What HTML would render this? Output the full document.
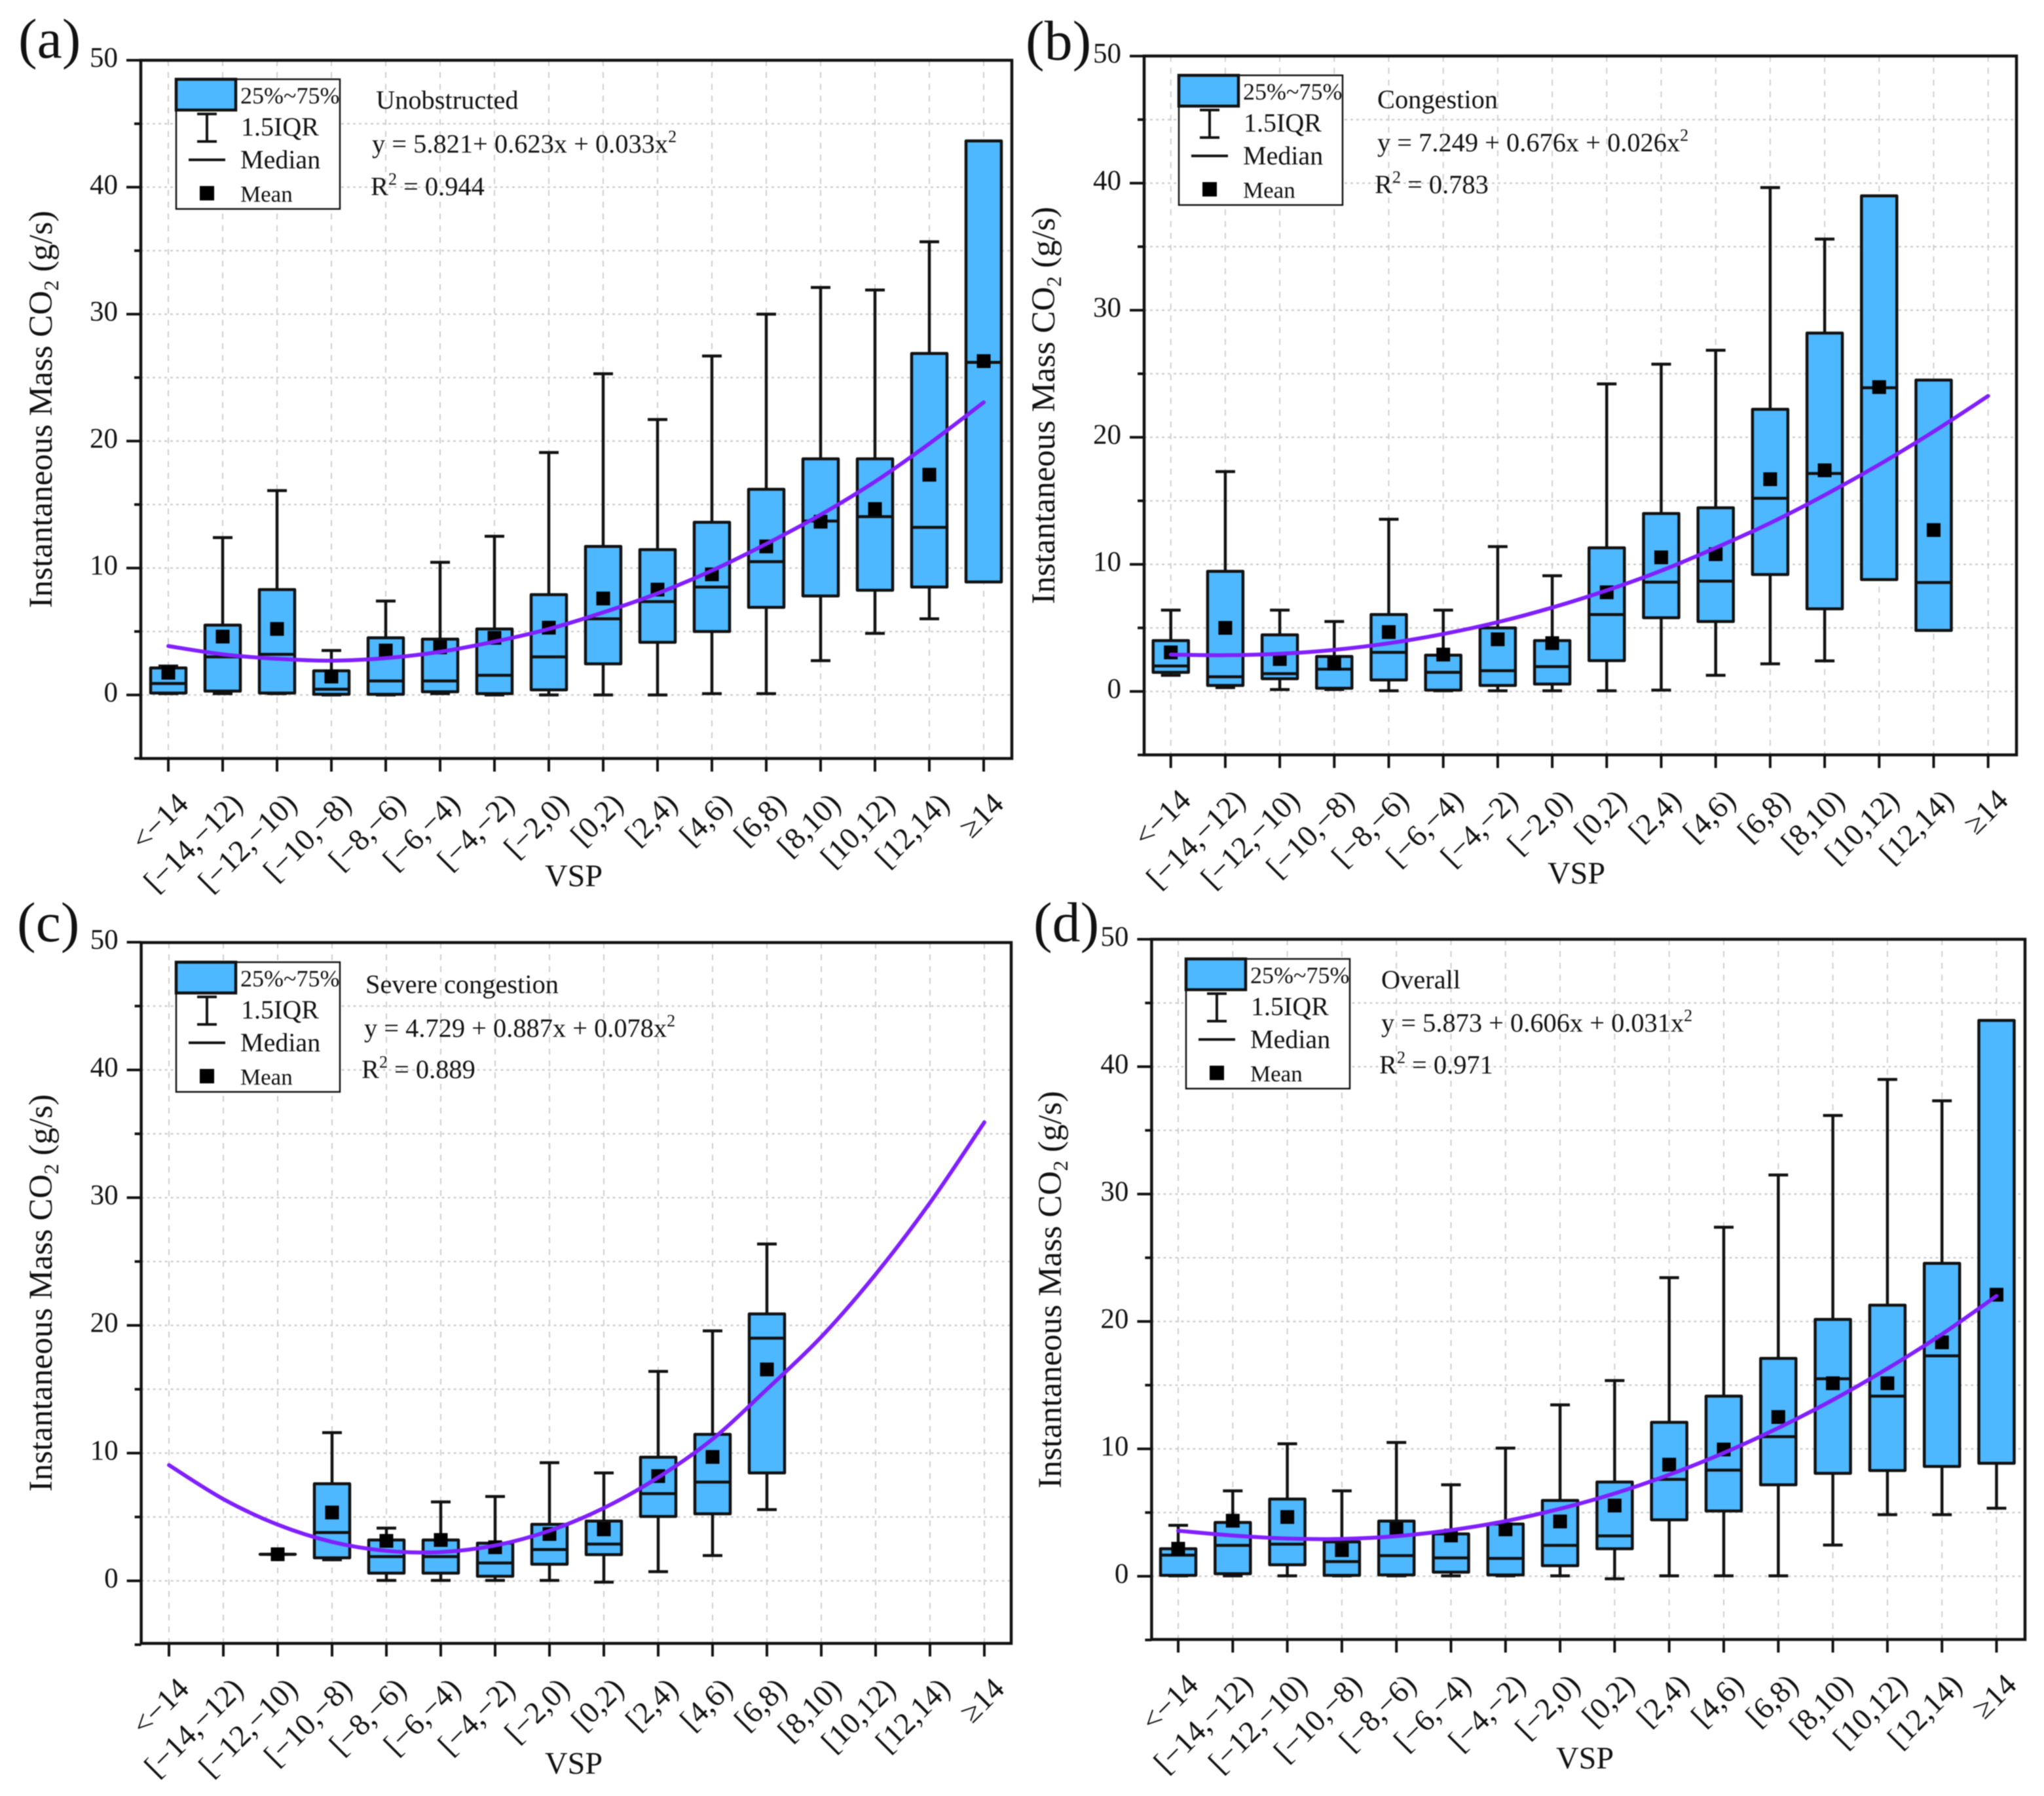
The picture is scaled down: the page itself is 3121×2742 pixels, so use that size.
<!DOCTYPE html>
<html lang="en">
<head>
<meta charset="utf-8">
<title>Instantaneous Mass CO2 by VSP bin</title>
<style>
html,body{margin:0;padding:0;background:#fff;}
svg{display:block;filter:blur(0.7px);}
text{font-family:"Liberation Serif",serif;fill:#111;}
.leg{font-size:40px;}
.note{font-size:40.4px;}
.plabel{font-size:86px;}
.ytitle{font-size:51px;}
.xtitle{font-size:48px;}
</style>
</head>
<body>
<svg id="chart" xmlns="http://www.w3.org/2000/svg" width="3121" height="2742" viewBox="0 0 3121 2742">
<rect x="0" y="0" width="3121" height="2742" fill="#ffffff"/>
<g id="panel-a"></g>
<g id="panel-b"></g>
<g id="panel-c"></g>
<g id="panel-d"></g>

<!-- Panel a static text -->
<text class="plabel" x="28" y="88">(a)</text>
<text class="ytitle" transform="translate(79 625) rotate(-90)" text-anchor="middle">Instantaneous Mass CO<tspan font-size="32" dy="10">2</tspan><tspan dy="-10"> (g/s)</tspan></text>
<text class="xtitle" x="876" y="1353" text-anchor="middle">VSP</text>
<g transform="translate(269 121)">
  <rect x="0" y="0" width="250" height="198" fill="#fff" stroke="#111" stroke-width="2.5"/>
  <rect x="0" y="0" width="91" height="47" fill="#4DB8FF" stroke="#111" stroke-width="4.5"/>
  <text x="98" y="37" style="font-size:36px">25%~75%</text>
  <path d="M32 53H62M47 53V95M32 95H62" fill="none" stroke="#111" stroke-width="4"/>
  <text class="leg" x="99" y="86">1.5IQR</text>
  <path d="M19 123H75" fill="none" stroke="#111" stroke-width="4"/>
  <text class="leg" x="98" y="136">Median</text>
  <rect x="36" y="163" width="22" height="22" fill="#000"/>
  <text x="98" y="187" style="font-size:35px">Mean</text>
</g>
<text class="note" x="574" y="166">Unobstructed</text>
<text class="note" x="568" y="233">y = 5.821+ 0.623x + 0.033x<tspan font-size="26" dy="-16">2</tspan></text>
<text class="note" x="566" y="298">R<tspan font-size="26" dy="-16">2</tspan><tspan dy="16"> = 0.944</tspan></text>

<!-- Panel b static text -->
<text class="plabel" x="1566" y="91">(b)</text>
<text class="ytitle" transform="translate(1610 619) rotate(-90)" text-anchor="middle">Instantaneous Mass CO<tspan font-size="32" dy="10">2</tspan><tspan dy="-10"> (g/s)</tspan></text>
<text class="xtitle" x="2407" y="1349" text-anchor="middle">VSP</text>
<g transform="translate(1800 115)">
  <rect x="0" y="0" width="250" height="198" fill="#fff" stroke="#111" stroke-width="2.5"/>
  <rect x="0" y="0" width="91" height="47" fill="#4DB8FF" stroke="#111" stroke-width="4.5"/>
  <text x="98" y="37" style="font-size:36px">25%~75%</text>
  <path d="M32 53H62M47 53V95M32 95H62" fill="none" stroke="#111" stroke-width="4"/>
  <text class="leg" x="99" y="86">1.5IQR</text>
  <path d="M19 123H75" fill="none" stroke="#111" stroke-width="4"/>
  <text class="leg" x="98" y="136">Median</text>
  <rect x="36" y="163" width="22" height="22" fill="#000"/>
  <text x="98" y="187" style="font-size:35px">Mean</text>
</g>
<text class="note" x="2103" y="165">Congestion</text>
<text class="note" x="2103" y="231">y = 7.249 + 0.676x + 0.026x<tspan font-size="26" dy="-16">2</tspan></text>
<text class="note" x="2099" y="295">R<tspan font-size="26" dy="-16">2</tspan><tspan dy="16"> = 0.783</tspan></text>

<!-- Panel c static text -->
<text class="plabel" x="26" y="1437">(c)</text>
<text class="ytitle" transform="translate(79 1974) rotate(-90)" text-anchor="middle">Instantaneous Mass CO<tspan font-size="32" dy="10">2</tspan><tspan dy="-10"> (g/s)</tspan></text>
<text class="xtitle" x="876" y="2708" text-anchor="middle">VSP</text>
<g transform="translate(269 1469)">
  <rect x="0" y="0" width="250" height="198" fill="#fff" stroke="#111" stroke-width="2.5"/>
  <rect x="0" y="0" width="91" height="47" fill="#4DB8FF" stroke="#111" stroke-width="4.5"/>
  <text x="98" y="37" style="font-size:36px">25%~75%</text>
  <path d="M32 53H62M47 53V95M32 95H62" fill="none" stroke="#111" stroke-width="4"/>
  <text class="leg" x="99" y="86">1.5IQR</text>
  <path d="M19 123H75" fill="none" stroke="#111" stroke-width="4"/>
  <text class="leg" x="98" y="136">Median</text>
  <rect x="36" y="163" width="22" height="22" fill="#000"/>
  <text x="98" y="187" style="font-size:35px">Mean</text>
</g>
<text class="note" x="558" y="1516">Severe congestion</text>
<text class="note" x="556" y="1583">y = 4.729 + 0.887x + 0.078x<tspan font-size="26" dy="-16">2</tspan></text>
<text class="note" x="552" y="1646">R<tspan font-size="26" dy="-16">2</tspan><tspan dy="16"> = 0.889</tspan></text>

<!-- Panel d static text -->
<text class="plabel" x="1578" y="1437">(d)</text>
<text class="ytitle" transform="translate(1620 1969) rotate(-90)" text-anchor="middle">Instantaneous Mass CO<tspan font-size="32" dy="10">2</tspan><tspan dy="-10"> (g/s)</tspan></text>
<text class="xtitle" x="2420" y="2700" text-anchor="middle">VSP</text>
<g transform="translate(1811 1464)">
  <rect x="0" y="0" width="250" height="198" fill="#fff" stroke="#111" stroke-width="2.5"/>
  <rect x="0" y="0" width="91" height="47" fill="#4DB8FF" stroke="#111" stroke-width="4.5"/>
  <text x="98" y="37" style="font-size:36px">25%~75%</text>
  <path d="M32 53H62M47 53V95M32 95H62" fill="none" stroke="#111" stroke-width="4"/>
  <text class="leg" x="99" y="86">1.5IQR</text>
  <path d="M19 123H75" fill="none" stroke="#111" stroke-width="4"/>
  <text class="leg" x="98" y="136">Median</text>
  <rect x="36" y="163" width="22" height="22" fill="#000"/>
  <text x="98" y="187" style="font-size:35px">Mean</text>
</g>
<text class="note" x="2109" y="1509">Overall</text>
<text class="note" x="2109" y="1575">y = 5.873 + 0.606x + 0.031x<tspan font-size="26" dy="-16">2</tspan></text>
<text class="note" x="2106" y="1639">R<tspan font-size="26" dy="-16">2</tspan><tspan dy="16"> = 0.971</tspan></text>
</svg>

<script>
const categories = ["<−14","[−14,−12)","[−12,−10)","[−10,−8)","[−8,−6)","[−6,−4)","[−4,−2)","[−2,0)","[0,2)","[2,4)","[4,6)","[6,8)","[8,10)","[10,12)","[12,14)","≥14"];
const yTickValues = [-5,0,5,10,15,20,25,30,35,40,45,50];
const yTickLabels = ["","0","","10","","20","","30","","40","","50"];

const loA   = [0.1,0.1,0.1,0,0,0.1,0,0,0,0,0.1,0.1,2.7,4.85,6,null];
const q1A   = [0.15,0.3,0.15,0.05,0.05,0.25,0.1,0.4,2.45,4.15,5,6.9,7.8,8.25,8.5,8.9];
const medA  = [0.9,3,3.2,0.45,1.1,1.1,1.55,3,6,7.35,8.5,10.5,13.7,14.05,13.2,26.2];
const q3A   = [2.13,5.5,8.3,1.9,4.5,4.4,5.2,7.9,11.7,11.45,13.6,16.2,18.6,18.6,26.9,43.65];
const hiA   = [2.28,12.4,16.1,3.5,7.4,10.45,12.5,19.1,25.3,21.7,26.7,30,32.1,31.9,35.7,null];
const meanA = [1.75,4.6,5.2,1.45,3.5,3.75,4.5,5.3,7.6,8.3,9.5,11.7,13.65,14.65,17.35,26.3];
const fitA  = [3.85,3.2,2.85,2.7,2.9,3.4,4.2,5.2,6.5,8,9.8,11.9,14.2,16.8,19.8,23.05];

const loB   = [1.27,0.3,0.15,0.15,0.05,0.05,0.05,0.05,0.05,0.1,1.27,2.17,2.4,null,null,null];
const q1B   = [1.5,0.47,1,0.25,0.9,0.1,0.47,0.58,2.42,5.8,5.5,9.2,6.5,8.8,4.8,null];
const medB  = [2,1.15,1.4,1.75,3.07,1.5,1.63,1.95,6.05,8.6,8.68,15.2,17.15,23.9,8.57,null];
const q3B   = [4,9.45,4.45,2.75,6.05,2.85,5,4,11.3,14,14.45,22.2,28.2,39,24.5,null];
const hiB   = [6.4,17.3,6.4,5.5,13.55,6.4,11.4,9.1,24.2,25.75,26.85,39.65,35.6,null,null,null];
const meanB = [3.07,5,2.55,2.2,4.67,2.9,4.1,3.8,7.8,10.55,10.8,16.7,17.4,23.95,12.7,null];
const fitB  = [2.9,2.85,2.96,3.27,3.79,4.52,5.45,6.6,7.95,9.5,11.3,13.25,15.45,17.85,20.45,23.25];

const loC   = [null,null,2.08,1.65,0.03,0.03,0.03,0.03,-0.1,0.72,1.98,5.58,null,null,null,null];
const q1C   = [null,null,2.08,1.8,0.6,0.6,0.36,1.3,2.05,5.04,5.25,8.45,null,null,null,null];
const medC  = [null,null,2.08,3.78,1.9,1.9,1.4,2.45,2.88,6.83,7.73,19,null,null,null,null];
const q3C   = [null,null,2.08,7.6,3.2,3.2,2.95,4.42,4.68,9.68,11.47,20.9,null,null,null,null];
const hiC   = [null,null,2.08,11.6,4.13,6.18,6.6,9.25,8.45,16.4,19.57,26.37,null,null,null,null];
const meanC = [null,null,2.08,5.35,3.13,3.2,2.63,3.67,4.03,8.2,9.7,16.55,null,null,null,null];
const fitC  = [9.06,6.4,4.4,3.05,2.35,2.25,2.77,3.92,5.7,8.1,11.1,15,19.1,24,29.6,35.9];

const loD   = [0.03,0.03,0.03,0.03,0.03,0.03,0.03,0.03,-0.2,0.03,0.03,0.03,2.45,4.83,4.83,5.34];
const q1D   = [0.07,0.2,0.9,0.07,0.1,0.32,0.1,0.83,2.16,4.43,5.12,7.18,8.08,8.3,8.62,8.87];
const medD  = [1.66,2.42,2.52,1.15,1.62,1.44,1.4,2.42,3.17,7.6,8.33,10.96,15.5,14.14,17.3,null];
const q3D   = [2.16,4.22,6.06,2.7,4.33,3.32,4.1,5.95,7.4,12.08,14.14,17.1,20.16,21.28,24.56,43.63];
const hiD   = [4,6.7,10.4,6.7,10.5,7.18,10.06,13.45,15.36,23.44,27.4,31.5,36.17,39,37.32,null];
const meanD = [2.16,4.36,4.65,2.05,3.68,3.2,3.68,4.3,5.55,8.76,9.95,12.5,15.15,15.15,18.36,22.1];
const fitD  = [3.57,3.2,2.96,2.93,3.15,3.62,4.33,5.3,6.5,7.97,9.68,11.64,13.84,16.3,19,22];

const NS = "http://www.w3.org/2000/svg";

function make(parent, tag, attrs) {
  const node = document.createElementNS(NS, tag);
  for (const k in attrs) node.setAttribute(k, attrs[k]);
  parent.appendChild(node);
  return node;
}

function smoothPath(points) {
  let d = "M" + points[0][0] + " " + points[0][1];
  for (let i = 0; i < points.length - 1; i++) {
    const p0 = points[Math.max(i - 1, 0)];
    const p1 = points[i];
    const p2 = points[i + 1];
    const p3 = points[Math.min(i + 2, points.length - 1)];
    const c1x = p1[0] + (p2[0] - p0[0]) / 6;
    const c1y = p1[1] + (p2[1] - p0[1]) / 6;
    const c2x = p2[0] - (p3[0] - p1[0]) / 6;
    const c2y = p2[1] - (p3[1] - p1[1]) / 6;
    d += " C" + c1x + " " + c1y + " " + c2x + " " + c2y + " " + p2[0] + " " + p2[1];
  }
  return d;
}

function drawPanel(id, frame, lo, q1, med, q3, hi, mean, fit) {
  const root = document.getElementById(id);
  const xAxis = function (i) { return frame.first + i * frame.step; };
  const yAxis = function (v) { return frame.zero - v * frame.unit; };
  const halfBox = 27;
  const halfCap = 15;
  const markerSize = 21;

  yTickValues.forEach(function (v, i) {
    if (v > -5 && v < 50) {
      const grid = make(root, "line", {x1: frame.left, x2: frame.right, y1: yAxis(v), y2: yAxis(v), stroke: "#cfcfcf", "stroke-width": 2.5, "stroke-dasharray": "4 5"});
      
      
    }
    const isMajor = yTickLabels[i] !== "" ;
    const tick = make(root, "line", {x1: frame.left - (isMajor ? 22 : 10), x2: frame.left, y1: yAxis(v), y2: yAxis(v), stroke: "#111", "stroke-width": 4});
    
    
    if (yTickLabels[i] !== "") {
      const label = make(root, "text", {x: frame.left - 35, y: yAxis(v) + 10, "text-anchor": "end", "font-size": 43});
      label.textContent = yTickLabels[i];
      
      
    }
  });

  categories.forEach(function (c, i) {
    const grid = make(root, "line", {x1: xAxis(i), x2: xAxis(i), y1: frame.top, y2: frame.bottom, stroke: "#cfcfcf", "stroke-width": 2, "stroke-dasharray": "9 9"});
    
    
    const tick = make(root, "line", {x1: xAxis(i), x2: xAxis(i), y1: frame.bottom, y2: frame.bottom + 20, stroke: "#111", "stroke-width": 4});
    
    
    const ax = xAxis(i) + 33;
    const ay = frame.bottom + 72;
    const label = make(root, "text", {x: ax, y: ay, "text-anchor": "end", "font-size": 47, transform: "rotate(-45 " + ax + " " + ay + ")"});
    label.textContent = c;
    
    
  });

  const border = make(root, "rect", {x: frame.left, y: frame.top, width: frame.right - frame.left, height: frame.bottom - frame.top, fill: "none", stroke: "#111", "stroke-width": 4.5});
  
  

  categories.forEach(function (c, i) {
    if (q1[i] === null) return;
    const x = xAxis(i);
    if (hi[i] !== null) {
      const upper = make(root, "path", {d: "M" + x + " " + yAxis(q3[i]) + " V" + yAxis(hi[i]) + " M" + (x - halfCap) + " " + yAxis(hi[i]) + " H" + (x + halfCap), fill: "none", stroke: "#111", "stroke-width": 4.5});
      
      
    }
    if (lo[i] !== null) {
      const lower = make(root, "path", {d: "M" + x + " " + yAxis(q1[i]) + " V" + yAxis(lo[i]) + " M" + (x - halfCap) + " " + yAxis(lo[i]) + " H" + (x + halfCap), fill: "none", stroke: "#111", "stroke-width": 4.5});
      
      
    }
    const box = make(root, "path", {d: "M" + (x - halfBox) + " " + yAxis(q1[i]) + " H" + (x + halfBox) + " V" + yAxis(q3[i]) + " H" + (x - halfBox) + " Z", fill: "#4DB8FF", stroke: "#111", "stroke-width": 4.5, "stroke-linejoin": "round"});
    
    
    if (med[i] !== null) {
      const median = make(root, "line", {x1: x - halfBox, x2: x + halfBox, y1: yAxis(med[i]), y2: yAxis(med[i]), stroke: "#111", "stroke-width": 4.5});
      
      
    }
    const marker = make(root, "rect", {x: x - markerSize / 2, y: yAxis(mean[i]) - markerSize / 2, width: markerSize, height: markerSize, fill: "#000"});
    
    
  });

  const pts = fit.map(function (v, i) { return [xAxis(i), yAxis(v)]; });
  const curve = make(root, "path", {d: smoothPath(pts), fill: "none", stroke: "#8020FF", "stroke-width": 6, "stroke-linecap": "round"});
  
  
}

drawPanel("panel-a", {left: 215, right: 1545, top: 92, bottom: 1158, zero: 1061, unit: 19.38, first: 257, step: 83}, loA, q1A, medA, q3A, hiA, meanA, fitA);
drawPanel("panel-b", {left: 1747, right: 3079, top: 85.5, bottom: 1152.5, zero: 1055.6, unit: 19.4, first: 1787.7, step: 83.2}, loB, q1B, medB, q3B, hiB, meanB, fitB);
drawPanel("panel-c", {left: 215.6, right: 1544, top: 1439, bottom: 2509, zero: 2413.5, unit: 19.5, first: 258, step: 83}, loC, q1C, medC, q3C, hiC, meanC, fitC);
drawPanel("panel-d", {left: 1758.4, right: 3092, top: 1434, bottom: 2503, zero: 2406.5, unit: 19.45, first: 1799, step: 83.3}, loD, q1D, medD, q3D, hiD, meanD, fitD);
</script>
</body>
</html>
